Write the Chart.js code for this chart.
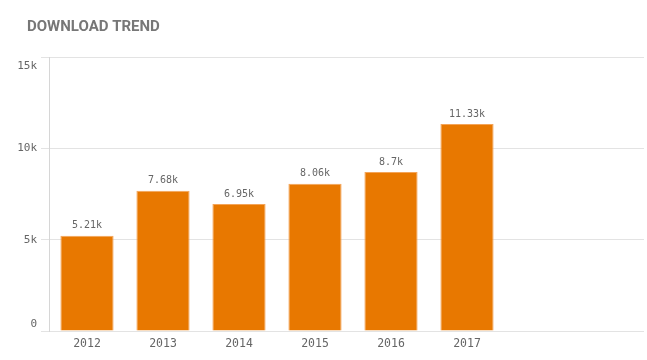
<!DOCTYPE html>
<html>
<head>
<meta charset="utf-8">
<script src="https://cdn.jsdelivr.net/npm/chart.js@4.4.1/dist/chart.umd.min.js"></script>
<style>
  html, body { margin: 0; padding: 0; background: #ffffff; overflow: hidden; }
  #wrap { width: 647px; height: 360px; position: relative; }
</style>
</head>
<body>
<div id="wrap"><canvas id="c" width="647" height="360"></canvas></div>
<script>
const titleText = 'DOWNLOAD TREND';
const years = [2012, 2013, 2014, 2015, 2016, 2017];
const downloads = [5210, 7680, 6950, 8060, 8700, 11330];
const yTicks = [0, 5000, 10000, 15000];

function fmtK(v) {
  if (v === 0) return '0';
  return parseFloat((v / 1000).toFixed(2)) + 'k';
}

const mono = "'DejaVu Sans Mono', 'Liberation Mono', monospace";

const valueLabels = {
  id: 'valueLabels',
  afterLayout(chart) {
    if (chart.titleBlock) chart.titleBlock.left = 27;
  },
  beforeDraw(chart) {
    const ys = chart.scales.y;
    const items = ys.getLabelItems();
    if (items.length && !ys._nudged) {
      items[0].options.translation[1] -= 7;
      items[items.length - 1].options.translation[1] += 9;
      ys._nudged = true;
    }
  },
  afterDatasetsDraw(chart) {
    const ctx = chart.ctx;
    const meta = chart.getDatasetMeta(0);
    ctx.save();
    ctx.font = '10px ' + mono;
    ctx.fillStyle = '#666666';
    ctx.textAlign = 'center';
    ctx.textBaseline = 'bottom';
    meta.data.forEach((bar, i) => {
      ctx.fillText(fmtK(chart.data.datasets[0].data[i].y), bar.x, bar.y - 5);
    });
    ctx.restore();
  }
};

new Chart(document.getElementById('c'), {
  type: 'bar',
  data: {
    datasets: [{
      data: years.map((y, i) => ({ x: y, y: downloads[i] })),
      backgroundColor: '#e87800',
      borderColor: '#f4a458',
      borderWidth: 1,
      borderSkipped: 'bottom',
      barPercentage: 0.7,
      categoryPercentage: 1.0
    }]
  },
  options: {
    responsive: false,
    animation: false,
    devicePixelRatio: 1,
    layout: { padding: { left: 0, right: 3, top: 0, bottom: 0 } },
    plugins: {
      legend: { display: false },
      tooltip: { enabled: false },
      title: {
        display: true,
        text: titleText,
        align: 'start',
        color: '#777777',
        font: { family: 'Roboto', size: 15, weight: 'bold', lineHeight: 1.2 },
        padding: { top: 18, bottom: 21 }
      }
    },
    scales: {
      x: {
        type: 'linear',
        offset: false,
        min: 2011.5,
        max: 2011.5 + 595 / 76,
        afterBuildTicks: s => { s.ticks = years.map(v => ({ value: v })); },
        afterFit: s => { s.height = 29; },
        grid: { display: false, offset: false, drawTicks: false, tickLength: 0 },
        border: { display: false },
        ticks: {
          color: '#666666',
          font: { family: mono, size: 11.5 },
          padding: 6,
          maxRotation: 0,
          callback: v => String(v)
        }
      },
      y: {
        min: 0,
        max: 15000,
        afterBuildTicks: s => { s.ticks = yTicks.map(v => ({ value: v })); },
        afterFit: s => { s.width = 49; },
        grid: { color: '#e3e3e3', lineWidth: 1, tickLength: 8, tickColor: '#e3e3e3' },
        border: { display: true, color: '#d6d6d6' },
        ticks: {
          color: '#666666',
          font: { family: mono, size: 11 },
          padding: 4,
          callback: v => fmtK(v)
        }
      }
    }
  },
  plugins: [valueLabels]
});
</script>
</body>
</html>
